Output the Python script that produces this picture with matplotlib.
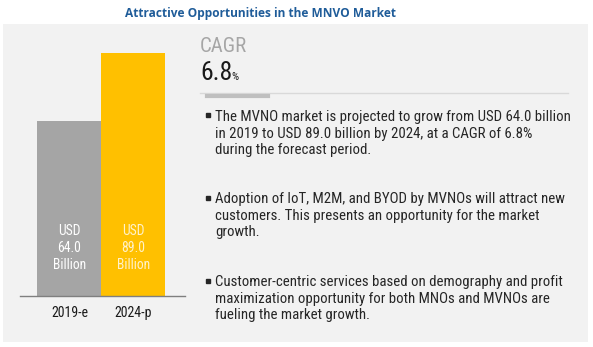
import matplotlib.pyplot as plt
from matplotlib.patches import Rectangle
from matplotlib.lines import Line2D

# data
years = ["2019-e", "2024-p"]
values = [64.0, 89.0]
bar_colors = ["#A5A5A5", "#FFC000"]
label_colors = ["#FFFFFF", "#FFF2CC"]
cagr = "6.8"
bullets = [
    "The MVNO market is projected to grow from USD 64.0 billion\n"
    "in 2019 to USD 89.0 billion by 2024, at a CAGR of 6.8%\n"
    "during the forecast period.",
    "Adoption of IoT, M2M, and BYOD by MVNOs will attract new\n"
    "customers. This presents an opportunity for the market\n"
    "growth.",
    "Customer-centric services based on demography and profit\n"
    "maximization opportunity for both MNOs and MVNOs are\n"
    "fueling the market growth.",
]

W, H = 593, 347
fig = plt.figure(figsize=(W / 100, H / 100), dpi=100)
fig.patch.set_facecolor("white")

narrow = ["Roboto Condensed", "DejaVu Sans"]


def fx(px):
    return px / W


def fy(py):
    return 1 - py / H


# grey panel
fig.patches.append(Rectangle((fx(3), fy(342)), fx(585), (342 - 24) / H,
                             transform=fig.transFigure, facecolor="#F2F2F2",
                             edgecolor="none", zorder=-10))

fig.text(0.44, fy(14), "Attractive Opportunities in the MNVO Market",
         ha="center", va="center", color="#1F5C99", fontsize=8.6,
         fontweight="bold", family=["Open Sans", "DejaVu Sans"])

# bar chart
ax = fig.add_axes([fx(20), fy(296), fx(165), (296 - 40) / H])
ax.set_facecolor("none")
x = range(len(years))
ax.bar(x, values, width=1.0, color=bar_colors, zorder=2)
ax.set_xlim(-0.773, 1.805)
ax.set_ylim(0, 89 * 256 / 243)
for s in ["top", "right", "left"]:
    ax.spines[s].set_visible(False)
ax.spines["bottom"].set_color("#7F7F7F")
ax.spines["bottom"].set_linewidth(1)
ax.set_yticks([])
ax.set_xticks(list(x))
ax.set_xticklabels(years, family=narrow, fontsize=10, color="#1A1A1A")
ax.tick_params(axis="x", length=0, pad=7)
for i, v in enumerate(values):
    ax.text(i, 17.5, f"USD\n{v:.1f}\nBillion", ha="center", va="center",
            color=label_colors[i], fontsize=9.8, family=narrow,
            linespacing=1.25, zorder=3)

# CAGR block
fig.text(fx(200), fy(52), "CAGR", color="#A6A6A6", fontsize=15,
         family=narrow, va="baseline", ha="left")
fig.text(fx(200), fy(80), cagr, color="#1A1A1A", fontsize=18.5,
         family=narrow, va="baseline", ha="left")
fig.text(fx(231), fy(80), "%", color="#1A1A1A", fontsize=8,
         family=narrow, va="baseline", ha="left")
fig.add_artist(Line2D([fx(200), fx(568)], [fy(93), fy(93)],
                      transform=fig.transFigure, color="#D9D9D9", lw=1))
fig.add_artist(Line2D([fx(207), fx(268)], [fy(96), fy(96)],
                      transform=fig.transFigure, color="#BFBFBF", lw=3))

# bullets
for b, y in zip(bullets, [121, 203, 286]):
    fig.add_artist(Line2D([fx(207.5)], [fy(y - 5.5)], transform=fig.transFigure,
                          marker="s", markersize=2.6, color="#262626", lw=0))
    fig.text(fx(215), fy(y - 11), b, color="#262626", fontsize=10.7,
             family=narrow, va="top", ha="left", linespacing=1.24)

fig.savefig("out.png", dpi=100)
